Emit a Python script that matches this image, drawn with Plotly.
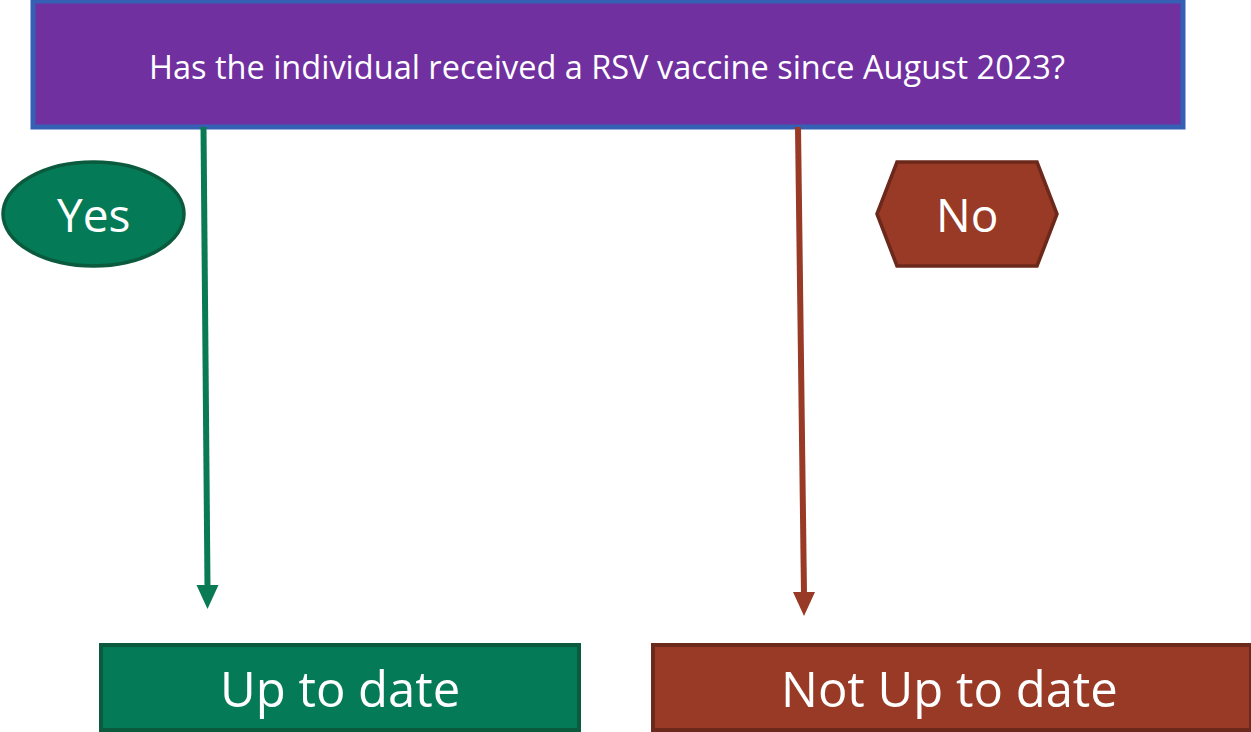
import plotly.graph_objects as go

# Node labels
question = "Has the individual received a RSV vaccine since August 2023?"
yes_label = "Yes"
no_label = "No"
yes_result = "Up to date"
no_result = "Not Up to date"

# Colors
purple_fill = "#7030A0"
purple_border = "#3560B4"
green_fill = "#047B56"
green_border = "#0B5A3E"
red_fill = "#983A26"
red_border = "#6C281A"

# Layout boxes (pixel coordinate system)
q_box = [33, 1, 1183, 127]
yes_ell = [3, 162, 184, 266]
no_hex = [877, 162, 1057, 266]
yes_box = [101, 645, 579, 730]
no_box = [653, 645, 1251, 730]
green_arrow = [203.5, 127, 207.5, 609]
red_arrow = [798, 127, 804, 616]

fig = go.Figure()
shapes = []

def rect(b, fill, line, w):
    return dict(type="rect", xref="x", yref="y", x0=b[0], y0=b[1], x1=b[2], y1=b[3],
                fillcolor=fill, line=dict(color=line, width=w), layer="above")

shapes.append(rect(q_box, purple_fill, purple_border, 5))
shapes.append(dict(type="circle", xref="x", yref="y", x0=yes_ell[0], y0=yes_ell[1],
                   x1=yes_ell[2], y1=yes_ell[3], fillcolor=green_fill,
                   line=dict(color=green_border, width=3.5), layer="above"))
x0, y0, x1, y1 = no_hex
ym = (y0 + y1) / 2
inset = 20
hex_path = f"M {x0},{ym} L {x0+inset},{y0} L {x1-inset},{y0} L {x1},{ym} L {x1-inset},{y1} L {x0+inset},{y1} Z"
shapes.append(dict(type="path", xref="x", yref="y", path=hex_path, fillcolor=red_fill,
                   line=dict(color=red_border, width=3.5), layer="above"))
shapes.append(rect(yes_box, green_fill, green_border, 4))
shapes.append(rect(no_box, red_fill, red_border, 4))

def arrow(a, color):
    xs, ys, xe, ye = a
    head = 24
    hw = 11
    out = [dict(type="line", xref="x", yref="y", x0=xs, y0=ys, x1=xe, y1=ye - head + 2,
                line=dict(color=color, width=6), layer="above")]
    p = f"M {xe-hw},{ye-head} L {xe+hw},{ye-head} L {xe},{ye} Z"
    out.append(dict(type="path", xref="x", yref="y", path=p, fillcolor=color,
                    line=dict(color=color, width=0), layer="above"))
    return out

shapes += arrow(green_arrow, "#0A7A55")
shapes += arrow(red_arrow, "#983A26")

font = "Open Sans"
anns = [
    dict(x=607, y=66, text=question, font=dict(size=32.5, color="white", family=font)),
    dict(x=(yes_ell[0] + yes_ell[2]) / 2, y=214, text=yes_label, font=dict(size=46, color="white", family=font)),
    dict(x=(no_hex[0] + no_hex[2]) / 2, y=214, text=no_label, font=dict(size=46, color="white", family=font)),
    dict(x=(yes_box[0] + yes_box[2]) / 2, y=688, text=yes_result, font=dict(size=49, color="white", family=font)),
    dict(x=(no_box[0] + no_box[2]) / 2 - 3, y=688, text=no_result, font=dict(size=49, color="white", family=font)),
]
for a in anns:
    a.update(xref="x", yref="y", showarrow=False, xanchor="center", yanchor="middle")

fig.update_layout(
    width=1251, height=732,
    margin=dict(l=0, r=0, t=0, b=0),
    paper_bgcolor="white", plot_bgcolor="white",
    xaxis=dict(range=[0, 1251], visible=False, fixedrange=True),
    yaxis=dict(range=[732, 0], visible=False, fixedrange=True),
    shapes=shapes, annotations=anns, showlegend=False,
)
fig.write_html("out.html", config={"displayModeBar": False},
               post_script="document.body.style.margin='0';document.body.style.overflow='hidden';")
